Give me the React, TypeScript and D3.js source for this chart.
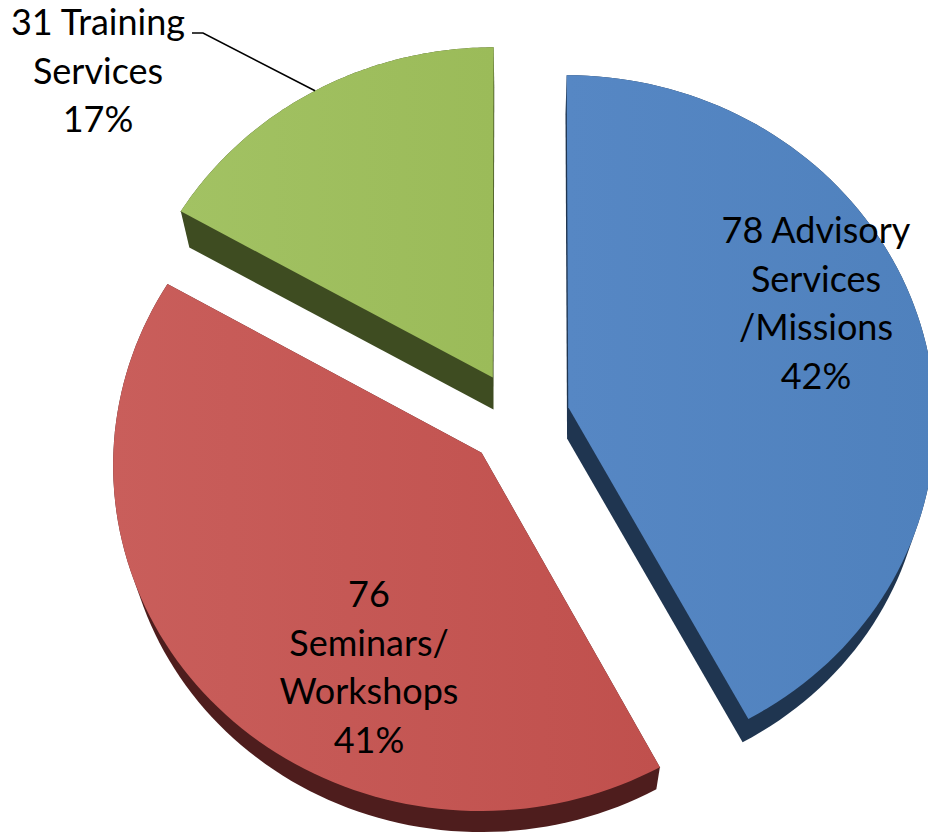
import React from 'react';
import * as d3 from 'd3';

// ---- data ----
const categories = ['Advisory Services /Missions', 'Seminars/ Workshops', 'Training Services'];
const counts = [78, 76, 31];
// label wrapping as in the original ({n} = count, {p} = percent)
const labelTemplates = [
  ['{n} Advisory', 'Services', '/Missions', '{p}%'],
  ['{n}', 'Seminars/', 'Workshops', '{p}%'],
  ['{n} Training', 'Services', '{p}%'],
];

// ---- styles / layout ----
const W = 928;
const H = 833;
const topColors = ['#4f81bd', '#c0504d', '#9bbb59'];
const topLight = ['#5687c4', '#c95e5b', '#a2c263'];
const sideColors = ['#1f3550', '#4e1d1d', '#3e4c21'];
const labelAnchors = [
  [816, 243],
  [369, 607],
  [98, 35],
];
const lineHeight = 48.5;
const fontSize = 36;

// 3D projection parameters
const P = { cx: 518.5, cy: 419, A: 367, B: 344, persp: 0.0335, explode: 0.14 };
const VP = [520, 1646];
const depthScale = 0.9748;

function project(u: number, v: number): [number, number] {
  const s = 1 / (1 - P.persp * v);
  return [P.cx + P.A * u * s, P.cy + P.B * v * s];
}
function toBottom(p: [number, number]): [number, number] {
  return [VP[0] + (p[0] - VP[0]) * depthScale, VP[1] + (p[1] - VP[1]) * depthScale];
}

export default function App() {
  const total = d3.sum(counts);
  const arcs = d3
    .pie<number>()
    .sort(null)
    .startAngle(0)
    .endAngle(2 * Math.PI)(counts);

  const slices = arcs.map((a, i) => {
    const mid = (a.startAngle + a.endAngle) / 2;
    const ou = P.explode * Math.sin(mid);
    const ov = -P.explode * Math.cos(mid);
    const n = 90;
    const pts: [number, number][] = [project(ou, ov)];
    for (let k = 0; k <= n; k++) {
      const t = a.startAngle + ((a.endAngle - a.startAngle) * k) / n;
      pts.push(project(ou + Math.sin(t), ov - Math.cos(t)));
    }
    const bottom = pts.map(toBottom);
    const hull = d3.polygonHull(pts.concat(bottom)) as [number, number][];
    const midPt = project(ou + Math.sin(mid), ov - Math.cos(mid));
    const xs = pts.map((p) => p[0]);
    return { i, pts, hull, ov, midPt, x0: d3.min(xs)!, x1: d3.max(xs)! };
  });

  const order = [...slices].sort((a, b) => a.ov - b.ov);
  const line = d3.line();

  const pct = counts.map((c) => Math.round((c / total) * 100));

  const leader = slices[2].midPt;

  return (
    <svg
      width={W}
      height={H}
      style={{ position: 'absolute', left: 0, top: 0, background: '#fff' }}
    >
      <defs>
        {slices.map((s) => (
          <linearGradient
            key={s.i}
            id={`g${s.i}`}
            gradientUnits="userSpaceOnUse"
            x1={s.x0}
            x2={s.x1}
            y1={0}
            y2={0}
          >
            <stop offset="0%" stopColor={topLight[s.i]} />
            <stop offset="100%" stopColor={topColors[s.i]} />
          </linearGradient>
        ))}
      </defs>
      {order.map((s) => (
        <g key={s.i} aria-label={categories[s.i]}>
          <path d={line(s.hull)! + 'Z'} fill={sideColors[s.i]} />
          <path d={line(s.pts)! + 'Z'} fill={`url(#g${s.i})`} />
        </g>
      ))}
      <polyline
        points={`192,33 203,33 ${leader[0]},${leader[1]}`}
        fill="none"
        stroke="#000"
        strokeWidth={1.5}
      />
      {labelTemplates.map((lines, i) => (
        <text
          key={i}
          x={labelAnchors[i][0]}
          y={labelAnchors[i][1]}
          textAnchor="middle"
          fontFamily="Lato, 'Open Sans', sans-serif"
          fontSize={fontSize}
          fill="#000"
        >
          {lines.map((t, k) => (
            <tspan key={k} x={labelAnchors[i][0]} dy={k === 0 ? 0 : lineHeight}>
              {t.replace('{n}', String(counts[i])).replace('{p}', String(pct[i]))}
            </tspan>
          ))}
        </text>
      ))}
    </svg>
  );
}
